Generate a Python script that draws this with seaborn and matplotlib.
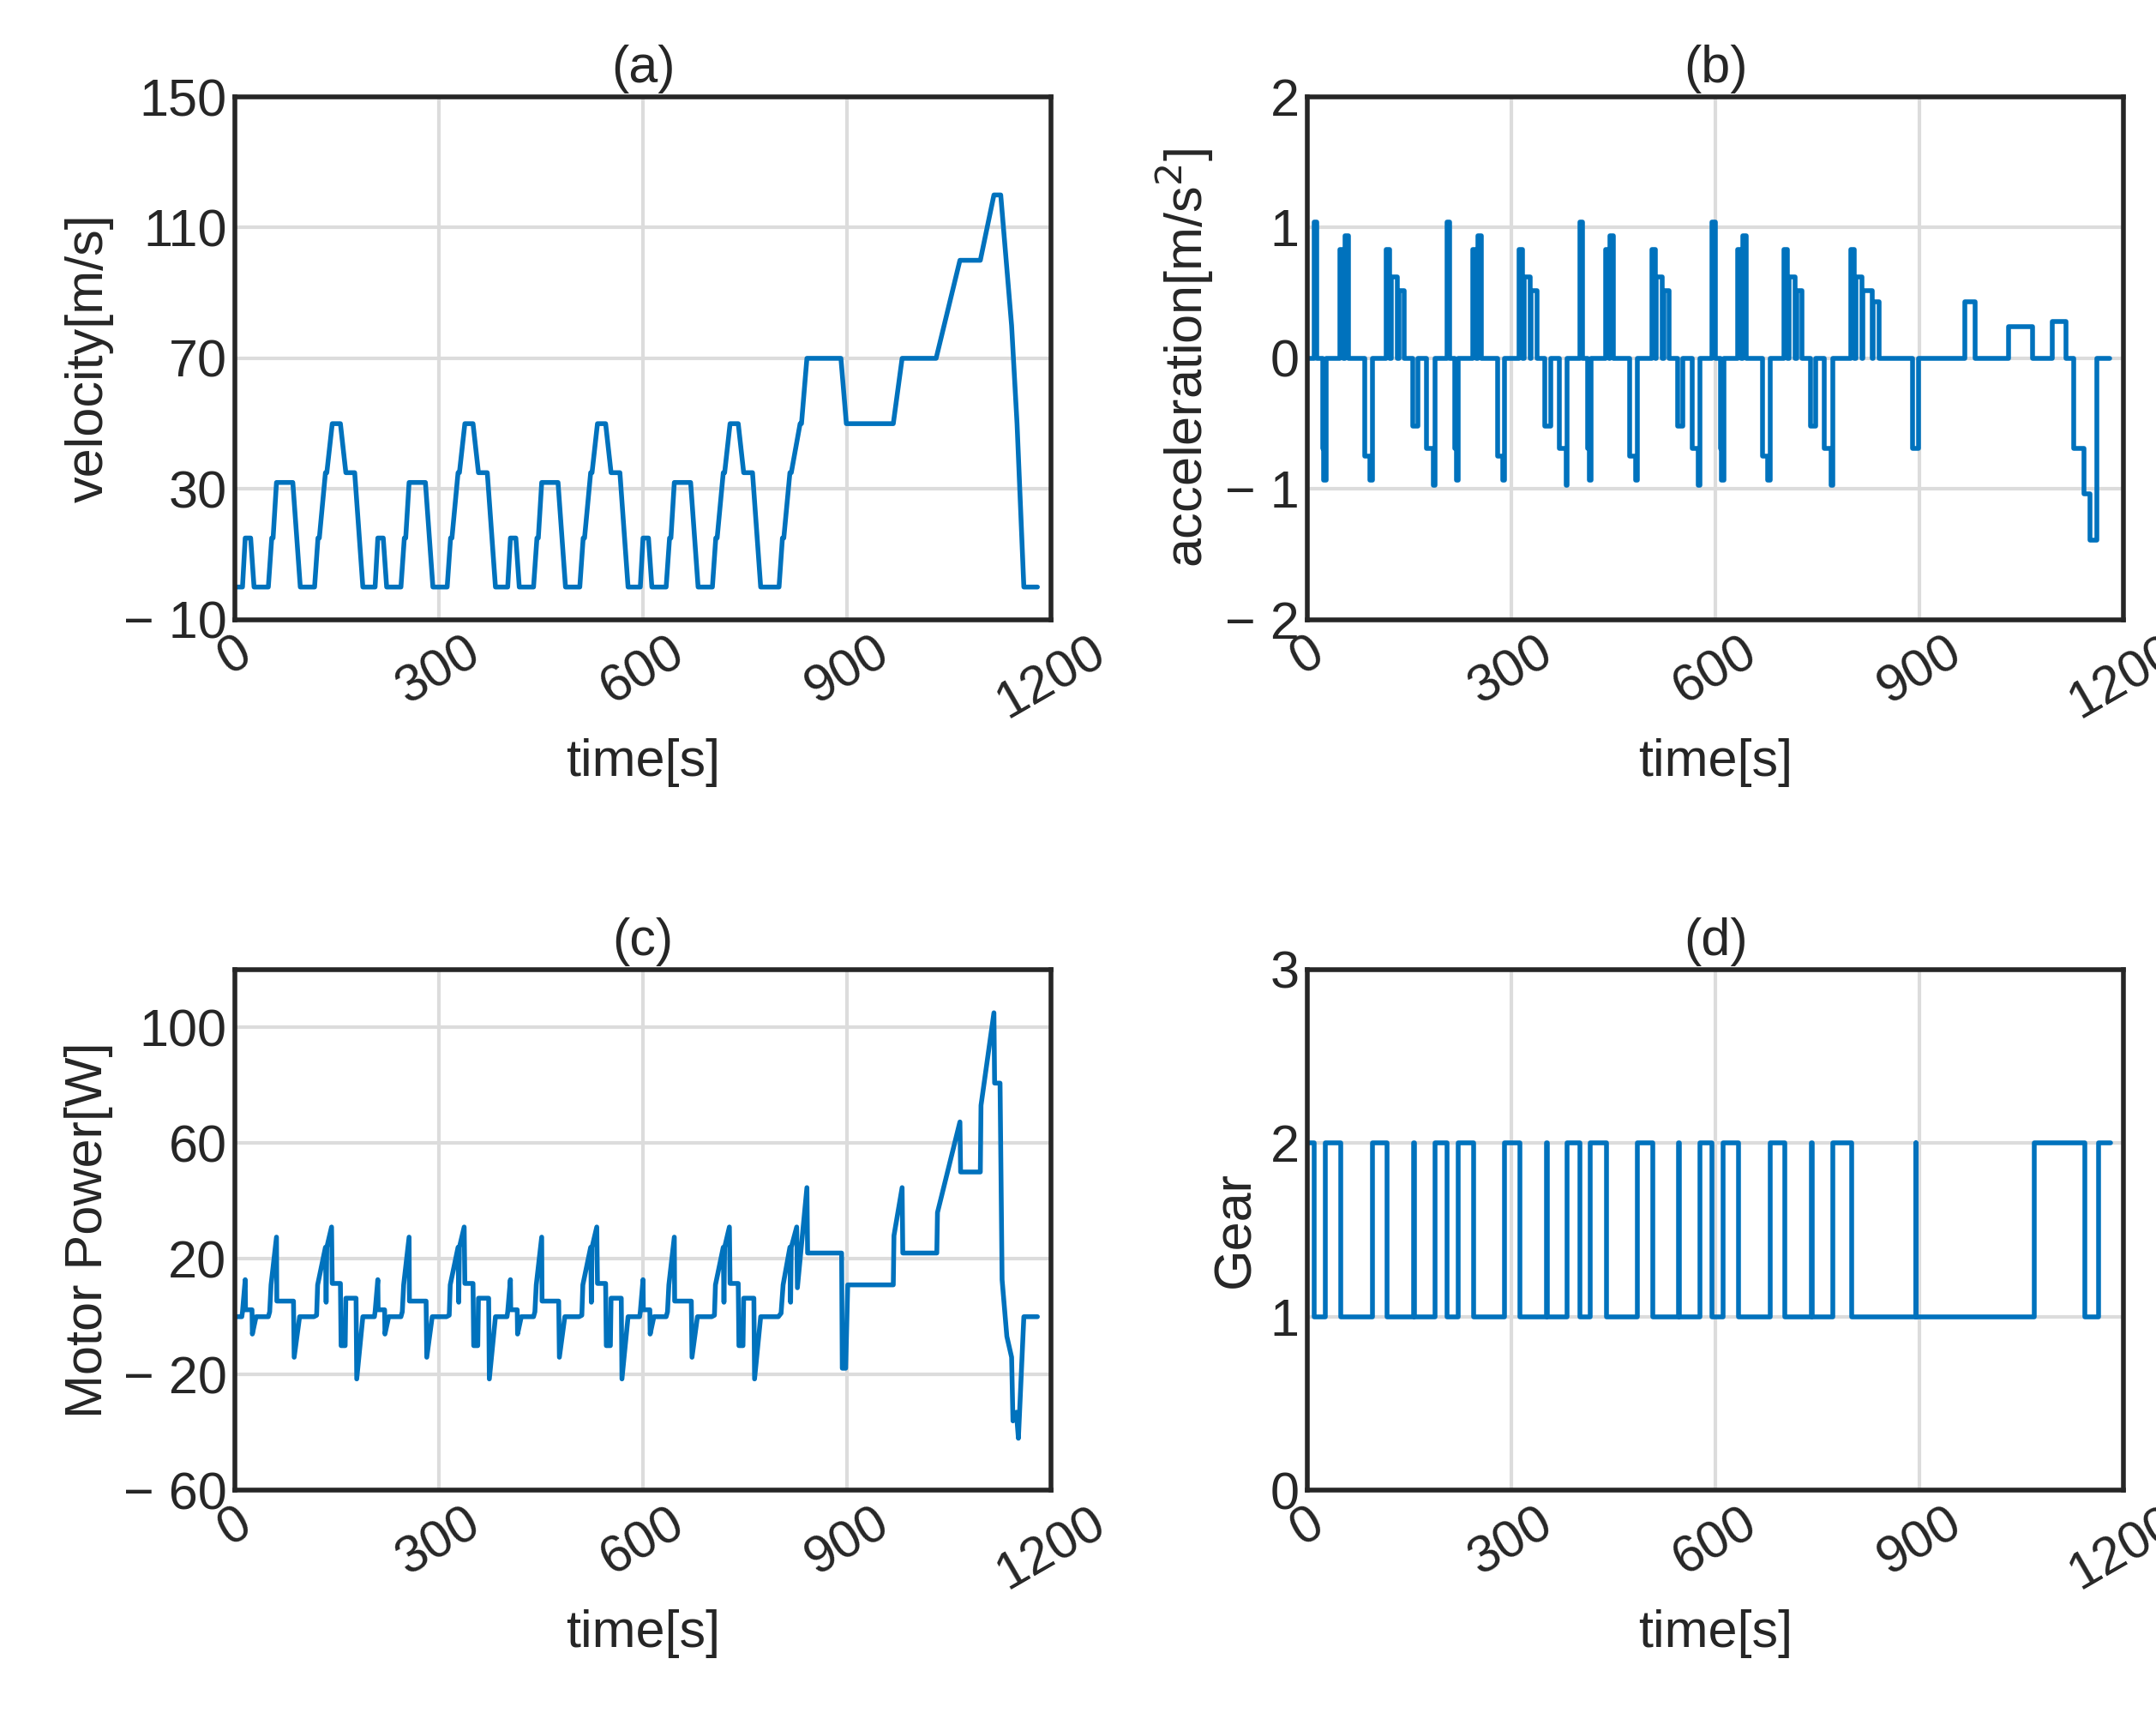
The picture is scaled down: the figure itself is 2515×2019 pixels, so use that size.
import numpy as np
import pandas as pd
import matplotlib
matplotlib.use("Agg")
import matplotlib.pyplot as plt
import seaborn as sns

# ECE urban cycle (repeated 4 times, start offsets below) + EUDC part
cycle_starts = [0, 195, 390, 585]

ece_v_t = [0, 11, 15, 23, 28, 49, 54, 56, 61, 85, 96, 117, 122, 124, 133, 135, 143, 155, 163, 176, 188, 195]
ece_v = [0, 0, 15, 15, 0, 0, 15, 15, 32, 32, 0, 0, 15, 15, 35, 35, 50, 50, 35, 35, 0, 0]
eudc_v_t = [800, 805, 807, 816, 818, 831, 833, 841, 891, 899, 968, 981, 1031, 1066, 1096, 1116, 1126, 1142, 1150, 1160, 1180]
eudc_v = [0, 15, 15, 35, 35, 50, 50, 70, 70, 50, 50, 70, 70, 100, 100, 120, 120, 80, 50, 0, 0]

ece_a_t = [0, 10, 14, 22, 24, 27, 48, 53, 55, 60, 84, 92, 95, 116, 121, 123, 132, 134, 142, 154, 162, 175, 185, 187]
ece_a = [0, 1.04, 0, -0.69, -0.93, 0, 0.83, 0, 0.94, 0, -0.75, -0.93, 0, 0.83, 0, 0.62, 0, 0.52, 0, -0.52, 0, -0.69, -0.97, 0]
eudc_a_t = [780, 799, 804, 806, 815, 817, 830, 832, 841, 890, 898, 967, 981, 1031, 1066, 1095, 1115, 1126, 1142, 1150, 1160, 1180]
eudc_a = [0, 0.83, 0, 0.62, 0, 0.52, 0, 0.43, 0, -0.69, 0, 0.43, 0, 0.24, 0, 0.28, 0, -0.69, -1.04, -1.39, 0, 0]

ece_p_t = [0, 10, 11, 15, 15.5, 25, 25.5, 31, 49, 51, 53, 61, 61.5, 86, 87, 95, 116, 120, 121.5, 133, 134,
           135, 142, 143, 155, 156, 162, 163, 178, 179, 188, 195]
ece_p = [0, 0, 1.7, 12.8, 2.4, 2.4, -6, 0, 0, 1.7, 11, 27.5, 5.4, 5.4, -14, 0, 0, 0.5, 11, 24, 5,
         24, 31, 11.5, 11.5, -10, -10, 6.4, 6.4, -21.5, 0, 0]
eudc_p_t = [780, 799, 803, 806, 816, 817, 818, 826, 827, 841, 842, 892, 893, 898, 901, 968, 969, 981, 982,
            1032, 1033, 1066, 1067, 1096, 1097, 1116, 1117, 1125, 1128, 1135, 1142, 1144, 1149, 1152, 1160, 1180]
eudc_p = [0, 0, 1.2, 11, 24, 5, 24, 31, 10, 44.6, 22, 22, -17.8, -17.8, 11, 11, 28, 44.6, 22,
          22, 36, 67.3, 50, 50, 73, 105, 80.7, 80.7, 12.8, -6.8, -14, -36, -33, -42, 0, 0]

ece_g_t = [0, 10, 26, 49, 95, 117, 156, 157, 187]
ece_g = [2, 1, 2, 1, 2, 1, 2, 1, 2]
eudc_g_t = [800, 894, 895, 1068, 1143, 1163, 1181]
eudc_g = [1, 2, 1, 2, 1, 2, 2]


def build(ece_t, ece_y, eudc_t, eudc_y):
    t, y = [], []
    for s in cycle_starts:
        t += [s + v for v in ece_t]
        y += list(ece_y)
    t += eudc_t
    y += eudc_y
    return pd.DataFrame({"t": t, "y": y})


vel = build(ece_v_t, ece_v, eudc_v_t, eudc_v)
acc = build(ece_a_t, ece_a, eudc_a_t, eudc_a)
pwr = build(ece_p_t, ece_p, eudc_p_t, eudc_p)
gear = build(ece_g_t, ece_g, eudc_g_t, eudc_g)

sns.set_style("white")
plt.rcParams["font.family"] = ["Liberation Sans", "DejaVu Sans"]
plt.rcParams["font.size"] = 22

blue = "#0072BD"
fig = plt.figure(figsize=(12.575, 10.095), dpi=200)
boxes = [[0.109, 0.642, 0.3785, 0.302], [0.6065, 0.642, 0.3785, 0.302],
         [0.109, 0.139, 0.3785, 0.301], [0.6065, 0.139, 0.3785, 0.301]]

panels = [
    (vel, "(a)", "velocity[m/s]", (-10, 150), [-10, 30, 70, 110, 150], "default"),
    (acc, "(b)", "acceleration[m/s$^2$]", (-2, 2), [-2, -1, 0, 1, 2], "steps-post"),
    (pwr, "(c)", "Motor Power[W]", (-60, 120), [-60, -20, 20, 60, 100], "default"),
    (gear, "(d)", "Gear", (0, 3), [0, 1, 2, 3], "steps-post"),
]

def fmt(v):
    return ("\u2212 %g" % -v) if v < 0 else "%g" % v

for box, (df, title, ylab, ylim, yticks, ds) in zip(boxes, panels):
    ax = fig.add_axes(box)
    sns.lineplot(data=df, x="t", y="y", ax=ax, color=blue, linewidth=2.0,
                 drawstyle=ds, sort=False, estimator=None)
    ax.set_xlim(0, 1200)
    ax.set_ylim(*ylim)
    ax.set_xticks([0, 300, 600, 900, 1200])
    ax.set_xticklabels(["0", "300", "600", "900", "1200"], rotation=30)
    ax.set_yticks(yticks)
    ax.set_yticklabels([fmt(v) for v in yticks])
    ax.grid(True, color="#dcdcdc", linewidth=1.5)
    ax.tick_params(direction="in", length=6, width=2, labelsize=22, color="#262626")
    for sp in ax.spines.values():
        sp.set_linewidth(2)
        sp.set_color("#262626")
    ax.set_title(title, fontsize=22, pad=6)
    ax.set_xlabel("time[s]", fontsize=22)
    ax.set_ylabel(ylab, fontsize=22)

fig.savefig("out.png", dpi=200)
